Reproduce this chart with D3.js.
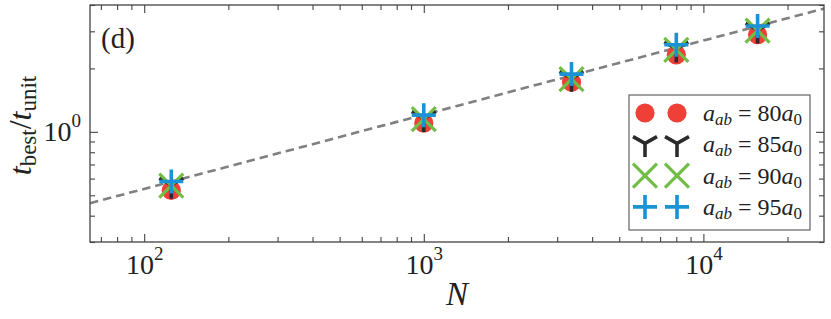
<!DOCTYPE html>
<html>
<head>
<meta charset="utf-8">
<script src="https://cdn.jsdelivr.net/npm/d3@7"></script>
<style>
  body { margin: 0; background: #fff; }
  text { font-family: "Liberation Serif", "DejaVu Serif", serif; fill: #222; }
</style>
</head>
<body>
<svg id="chart" width="831" height="319"></svg>
<script>
// N = L^3 system sizes
var sizes = [125, 1000, 3375, 8000, 15625];

// t_best / t_unit per scattering length
var t80 = [0.527, 1.10, 1.72, 2.32, 2.89];
var t85 = [0.560, 1.16, 1.80, 2.48, 3.05];
var t90 = [0.555, 1.15, 1.78, 2.45, 3.02];
var t95 = [0.581, 1.20, 1.88, 2.59, 3.18];

var seriesLabels = ["80", "85", "90", "95"];
var seriesShapes = ["circle", "tri", "x", "plus"];
var seriesColors = ["#ee4036", "#2b2b2b", "#72bd45", "#1a92d3"];

// power law guide t = c * N^p
var fitC = 0.106, fitP = 0.352;
var fitRange = [64, 27000];

var xMajor = [1e2, 1e3, 1e4];
var xMinor = [70, 80, 90, 200, 300, 400, 500, 600, 700, 800, 900,
              2000, 3000, 4000, 5000, 6000, 7000, 8000, 9000, 20000];
var yMajor = [1];
var yMinor = [0.3, 0.4, 0.5, 0.6, 0.7, 0.8, 0.9, 2, 3, 4];

var svg = d3.select("#chart");
var pLeft = 90, pRight = 824, pTop = 5, pBottom = 242;

var x = d3.scaleLog().domain([64, 27000]).range([pLeft, pRight]);
var y = d3.scaleLog().domain([0.3, 4]).range([pBottom, pTop]);

// fit line
var fitN = d3.range(0, 61).map(function(i){
  return fitRange[0] * Math.pow(fitRange[1] / fitRange[0], i / 60);
});
svg.append("path")
  .datum(fitN)
  .attr("fill", "none")
  .attr("stroke", "#808080")
  .attr("stroke-width", 2.6)
  .attr("stroke-dasharray", "8.5,5")
  .attr("d", d3.line()
    .x(function(d){ return x(d); })
    .y(function(d){ return y(fitC * Math.pow(d, fitP)); }));

// marker paths
function markerPath(shape, s) {
  var p = d3.path();
  if (shape == "circle") {
    p.moveTo(s * 0.8, 0);
    p.arc(0, 0, s * 0.8, 0, 2 * Math.PI);
  } else if (shape == "tri") {
    p.moveTo(0, 0); p.lineTo(0, s * 1.15);
    p.moveTo(0, 0); p.lineTo(-s * 1.0, -s * 0.55);
    p.moveTo(0, 0); p.lineTo(s * 1.0, -s * 0.55);
  } else if (shape == "x") {
    p.moveTo(-s, -s); p.lineTo(s, s);
    p.moveTo(-s, s); p.lineTo(s, -s);
  } else {
    p.moveTo(-s, 0); p.lineTo(s, 0);
    p.moveTo(0, -s); p.lineTo(0, s);
  }
  return p.toString();
}
function drawMarker(g, shape, color) {
  var path = g.append("path").attr("d", markerPath(shape, 12));
  if (shape == "circle") path.attr("fill", color);
  else path.attr("fill", "none").attr("stroke", color)
           .attr("stroke-width", shape == "x" ? 3.2 : 3.6);
}

var allSeries = [t80, t85, t90, t95];
allSeries.forEach(function(vals, k){
  var g = svg.append("g");
  g.selectAll("g").data(vals).enter().append("g")
    .attr("transform", function(d, i){ return "translate(" + x(sizes[i]) + "," + y(d) + ")"; })
    .each(function(){ drawMarker(d3.select(this), seriesShapes[k], seriesColors[k]); });
});

// axes, ticks pointing inwards on all sides
function styleAxis(g) {
  g.selectAll(".domain").remove();
  g.selectAll("line").attr("stroke", "#444").attr("stroke-width", 1.1);
}
function supLabels(g, anchor) {
  g.selectAll("text").each(function(d){
    var t = d3.select(this).text("");
    t.attr("font-size", 28).attr("fill", "#222").attr("text-anchor", anchor);
    t.append("tspan").text("10");
    t.append("tspan").attr("font-size", 19).attr("dy", "-0.72em")
      .text(Math.round(Math.log10(d)));
  });
}

svg.append("g").attr("transform", "translate(0," + pBottom + ")")
  .call(d3.axisBottom(x).tickValues(xMinor).tickSize(-5).tickFormat("")).call(styleAxis);
svg.append("g").attr("transform", "translate(0," + pBottom + ")")
  .call(d3.axisBottom(x).tickValues(xMajor).tickSize(-8).tickPadding(5)).call(styleAxis)
  .call(function(g){ supLabels(g, "middle"); g.selectAll("text").attr("dy", "0.95em").attr("font-family", null); });
svg.append("g").attr("transform", "translate(0," + pTop + ")")
  .call(d3.axisTop(x).tickValues(xMinor).tickSize(-5).tickFormat("")).call(styleAxis);
svg.append("g").attr("transform", "translate(0," + pTop + ")")
  .call(d3.axisTop(x).tickValues(xMajor).tickSize(-8).tickFormat("")).call(styleAxis);

svg.append("g").attr("transform", "translate(" + pLeft + ",0)")
  .call(d3.axisLeft(y).tickValues(yMinor).tickSize(-5).tickFormat("")).call(styleAxis);
svg.append("g").attr("transform", "translate(" + pLeft + ",0)")
  .call(d3.axisLeft(y).tickValues(yMajor).tickSize(-8).tickPadding(9)).call(styleAxis)
  .call(function(g){ supLabels(g, "end"); g.selectAll("text").attr("dy", "0.3em").attr("font-family", null); });
svg.append("g").attr("transform", "translate(" + pRight + ",0)")
  .call(d3.axisRight(y).tickValues(yMinor).tickSize(-5).tickFormat("")).call(styleAxis);
svg.append("g").attr("transform", "translate(" + pRight + ",0)")
  .call(d3.axisRight(y).tickValues(yMajor).tickSize(-8).tickFormat("")).call(styleAxis);

// frame
svg.append("rect")
  .attr("x", pLeft).attr("y", pTop)
  .attr("width", pRight - pLeft).attr("height", pBottom - pTop)
  .attr("fill", "none").attr("stroke", "#444").attr("stroke-width", 1.3);

// panel tag
svg.append("text").attr("x", 101).attr("y", 48).attr("font-size", 29).text("(d)");

// axis titles
svg.append("text")
  .attr("x", (pLeft + pRight) / 2).attr("y", 305)
  .attr("text-anchor", "middle").attr("font-size", 33).attr("font-style", "italic")
  .text("N");

var yl = svg.append("text")
  .attr("transform", "translate(31," + ((pTop + pBottom) / 2 + 2) + ") rotate(-90)")
  .attr("text-anchor", "middle").attr("font-size", 32);
yl.append("tspan").attr("font-style", "italic").text("t");
yl.append("tspan").attr("font-size", 23).attr("dy", "0.22em").text("best");
yl.append("tspan").attr("dy", "-0.16em").text("/");
yl.append("tspan").attr("font-style", "italic").text("t");
yl.append("tspan").attr("font-size", 23).attr("dy", "0.22em").text("unit");

// legend
var lg = svg.append("g");
lg.append("rect")
  .attr("x", 629).attr("y", 95).attr("width", 181).attr("height", 135)
  .attr("fill", "#fff").attr("fill-opacity", 0.85)
  .attr("stroke", "#555").attr("stroke-width", 1.1);

seriesLabels.forEach(function(lab, k){
  var cy = 113 + k * 31.3;
  [645, 677].forEach(function(cx){
    var m = lg.append("g").attr("transform", "translate(" + cx + "," + (k == 1 ? cy - 1 : cy) + ")");
    drawMarker(m, seriesShapes[k], seriesColors[k]);
  });
  var t = lg.append("text").attr("x", 703).attr("y", cy + 8).attr("font-size", 24);
  t.append("tspan").attr("font-style", "italic").text("a");
  t.append("tspan").attr("font-style", "italic").attr("font-size", 17).attr("dy", 4).text("ab");
  t.append("tspan").attr("dy", -4).text(" = " + lab);
  t.append("tspan").attr("font-style", "italic").text("a");
  t.append("tspan").attr("font-size", 17).attr("dy", 4).text("0");
});
</script>
</body>
</html>
